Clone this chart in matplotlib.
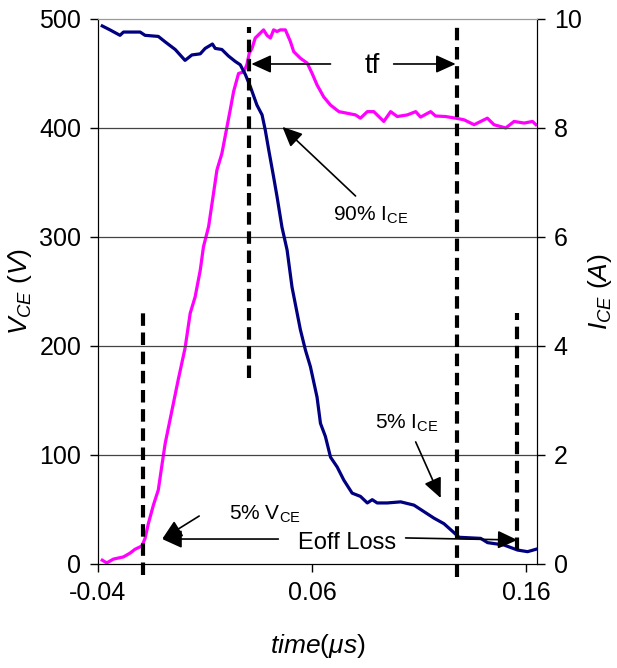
import matplotlib
matplotlib.use("Agg")
import matplotlib.pyplot as plt

plt.rcParams['font.family'] = ['Liberation Sans', 'DejaVu Sans']
plt.rcParams['mathtext.fontset'] = 'custom'
plt.rcParams['mathtext.rm'] = 'Liberation Sans'
plt.rcParams['mathtext.it'] = 'Liberation Sans:italic'

# tensão coletor-emissor (V)
t_vce = [-0.0380, -0.0344, -0.0297, -0.0281, -0.0203, -0.0180, -0.0118, -0.0086, -0.0039, 0.0007,
         0.0039, 0.0078, 0.0101, 0.0135, 0.0148, 0.0179, 0.0210, 0.0242, 0.0265, 0.0289,
         0.0312, 0.0343, 0.0367, 0.0382, 0.0398, 0.0421, 0.0437, 0.0460, 0.0484, 0.0507,
         0.0531, 0.0546, 0.0570, 0.0593, 0.0624, 0.0640, 0.0663, 0.0687, 0.0718, 0.0749,
         0.0788, 0.0827, 0.0859, 0.0882, 0.0905, 0.0952, 0.1015, 0.1077, 0.1124, 0.1171,
         0.1217, 0.1257, 0.1288, 0.1389, 0.1421, 0.1498, 0.1561, 0.1608, 0.1647]
vce = [493.6, 490, 485, 488, 488, 485, 484, 479, 472, 462,
       467, 468, 473, 477, 473, 472, 466, 461, 458, 449,
       438, 421, 412, 398, 380, 355, 337, 309, 288, 254,
       230, 215, 196, 181, 153, 129, 117, 98, 89, 77,
       65, 62, 56, 59, 56, 56, 57, 54, 48, 42,
       37, 30, 24.5, 23.5, 19.6, 17.4, 12.8, 11.3, 13.5]

# corrente de coletor (A)
t_ice = [-0.0380, -0.0359, -0.0328, -0.0281, -0.0250, -0.0227, -0.0195, -0.0180, -0.0164, -0.0141,
         -0.0118, -0.0102, -0.0086, -0.0025, 0.0007, 0.0031, 0.0054, 0.0078, 0.0093, 0.0117,
         0.0140, 0.0156, 0.0179, 0.0200, 0.0218, 0.0234, 0.0257, 0.0281, 0.0296, 0.0307,
         0.0320, 0.0335, 0.0374, 0.0390, 0.0406, 0.0421, 0.0437, 0.0452, 0.0476, 0.0499,
         0.0515, 0.0546, 0.0578, 0.0601, 0.0624, 0.0655, 0.0687, 0.0726, 0.0765, 0.0804,
         0.0827, 0.0859, 0.0889, 0.0936, 0.0968, 0.0999, 0.1046, 0.1085, 0.1108, 0.1155,
         0.1178, 0.1225, 0.1272, 0.1311, 0.1358, 0.1420, 0.1451, 0.1506, 0.1545, 0.1592,
         0.1631, 0.1647]
ice = [0.07, 0.02, 0.09, 0.13, 0.20, 0.27, 0.33, 0.47, 0.75, 1.08,
       1.36, 1.79, 2.21, 3.38, 3.96, 4.6, 4.9, 5.39, 5.82, 6.19,
       6.8, 7.23, 7.53, 7.96, 8.33, 8.67, 9.0, 9.03, 9.16, 9.37,
       9.46, 9.65, 9.8, 9.7, 9.65, 9.8, 9.77, 9.8, 9.8, 9.59,
       9.4, 9.28, 9.19, 9.0, 8.79, 8.57, 8.42, 8.3, 8.27, 8.24,
       8.18, 8.3, 8.3, 8.12, 8.3, 8.21, 8.24, 8.3, 8.2, 8.3,
       8.22, 8.21, 8.18, 8.15, 8.06, 8.18, 8.06, 8.0, 8.12, 8.09,
       8.12, 8.06]

# linhas tracejadas verticais: (t, V inicial, V final)
marcadores_t = [-0.0188, 0.0307, 0.1279, 0.1558]
marcadores_v0 = [-10, 171, -12, 13]
marcadores_v1 = [230, 493, 494, 230]

x_ticks = [-0.04, 0.06, 0.16]
y_ticks = [0, 100, 200, 300, 400, 500]
y2_ticks = [0, 2, 4, 6, 8, 10]

fig = plt.figure(figsize=(6.17, 6.68), dpi=100)
ax = fig.add_axes([0.1588, 0.1557, 0.7115, 0.8159])
ax2 = ax.twinx()

for y in y_ticks[1:-1]:
    ax.axhline(y, color="#444444", linewidth=0.9, zorder=0)

ax.plot(t_vce, vce, color="#000080", linewidth=2.3, zorder=3)
ax2.plot(t_ice, ice, color="#FF00FF", linewidth=2.3, zorder=3)

for t, v0, v1 in zip(marcadores_t, marcadores_v0, marcadores_v1):
    ax.plot([t, t], [v0, v1], color="black", linewidth=3, dashes=(3, 1.6), clip_on=False, zorder=4)

ax.set_xlim(-0.04, 0.1652)
ax.set_ylim(0, 500)
ax2.set_ylim(0, 10)
ax.set_xticks(x_ticks)
ax.set_xticklabels(["-0.04", "0.06", "0.16"])
ax.set_yticks(y_ticks)
ax2.set_yticks(y2_ticks)

for a in (ax, ax2):
    a.tick_params(direction="out", length=6, width=1, labelsize=18, pad=6)
    a.spines["top"].set_color("#999999")
ax.set_zorder(ax2.get_zorder() + 1)
ax.patch.set_visible(False)

ax.set_ylabel(r"$\mathit{V_{CE}}$ $\mathit{(V)}$", fontsize=19, labelpad=4)
ax2.set_ylabel(r"$\mathit{I_{CE}}$ $\mathit{(A)}$", fontsize=19, labelpad=3)
ax.set_xlabel(r"$\mathit{time(\mu s)}$", fontsize=19, labelpad=20)

seta = dict(arrowstyle="-|>,head_length=1.1,head_width=0.5", mutation_scale=11,
            color="black", linewidth=1.2, shrinkA=0, shrinkB=0)

# tf
ax.text(0.0883, 457, "tf", fontsize=20, ha="center", va="center")
ax.annotate("", xy=(0.0317, 458.7), xytext=(0.0687, 458.7), arrowprops=seta)
ax.annotate("", xy=(0.1272, 458.7), xytext=(0.0982, 458.7), arrowprops=seta)

# 90% ICE
ax.text(0.0874, 320, r"90% I$_{\rm CE}$", fontsize=15, ha="center", va="center")
ax.annotate("", xy=(0.0462, 401), xytext=(0.0804, 337.6), arrowprops=seta)

# 5% ICE
ax.text(0.1043, 129, r"5% I$_{\rm CE}$", fontsize=15, ha="center", va="center")
ax.annotate("", xy=(0.1202, 60.5), xytext=(0.1085, 112), arrowprops=seta)

# 5% VCE
ax.text(0.0382, 46, r"5% V$_{\rm CE}$", fontsize=15, ha="center", va="center")
ax.annotate("", xy=(-0.0100, 22.9), xytext=(0.0073, 44), arrowprops=seta)

# Eoff Loss
ax.text(0.0762, 19.3, "Eoff Loss", fontsize=17, ha="center", va="center", zorder=5)
ax.annotate("", xy=(-0.0100, 22.9), xytext=(0.0443, 22.9), arrowprops=seta)
ax.annotate("", xy=(0.1561, 22), xytext=(0.1038, 23.9), arrowprops=seta)

fig.savefig("out.png", dpi=100)
